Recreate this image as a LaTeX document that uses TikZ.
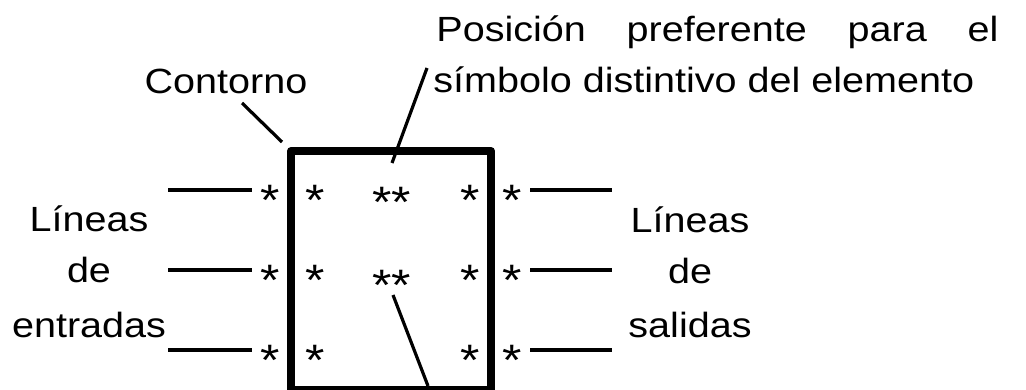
\documentclass[tikz,border=0pt]{standalone}
\usepackage{fontspec}
\setmainfont{Liberation Sans}[FakeStretch=1.13]

\begin{document}
\begin{tikzpicture}[x=0.5pt,y=-0.5pt,
  texto/.style={inner sep=0pt,font=\fontsize{17.5}{21}\selectfont},
  ast/.style={inner sep=4.2pt,anchor=base,font=\fontsize{22}{26}\selectfont},
  linea/.style={line width=2pt},
  guia/.style={line width=1.6pt}]
  \useasboundingbox (0,0) rectangle (1026,390);
  % contorno del elemento
  \node[draw,line width=4pt,line join=round,minimum width=100pt,minimum height=119.5pt,inner sep=0pt] (caja) at (391,270.5) {};
  % entradas y salidas
  \foreach \f/\y in {1/190,2/270,3/350}{
    \node[ast] (ae\f) at (270,\y+25) {*};
    \node[ast] (ie\f) at (315,\y+25) {*};
    \node[ast] (is\f) at (470,\y+25) {*};
    \node[ast] (as\f) at (512,\y+25) {*};
    \coordinate (e\f) at (168,\y);
    \coordinate (s\f) at (612,\y);
    \draw[linea] (e\f) -- (e\f -| ae\f.west);
    \draw[linea] (s\f -| as\f.east) -- (s\f);
  }
  % simbolo distintivo
  \node[ast] (sim1) at (392,217) {**};
  \node[ast] (sim2) at (392,300) {**};
  % rotulos
  \node[texto,anchor=base] (cont) at (226,93) {Contorno};
  \node[texto,anchor=base west] (pos1) at (436,42) {\makebox[281pt][s]{Posición preferente para el}};
  \node[texto,anchor=base west] (pos2) at (433,92) {símbolo distintivo del elemento};
  \node[texto,anchor=base] (le1) at (89,231) {Líneas};
  \node[texto,anchor=base] (le2) at (89,282) {de};
  \node[texto,anchor=base] (le3) at (89,337) {entradas};
  \node[texto,anchor=base] (ls1) at (690,232) {Líneas};
  \node[texto,anchor=base] (ls2) at (690,283) {de};
  \node[texto,anchor=base] (ls3) at (690,337) {salidas};
  % lineas guia
  \coordinate (g1) at (242,103);
  \coordinate (g2) at (282,142);
  \coordinate (g3) at (427,68);
  \coordinate (g4) at (392,163);
  \coordinate (g5) at (393,295);
  \coordinate (g6) at (428,386);
  \draw[guia] (g1) -- (g2);
  \draw[guia] (g3) -- (g4);
  \draw[guia] (g5) -- (g6);
\end{tikzpicture}
\end{document}
